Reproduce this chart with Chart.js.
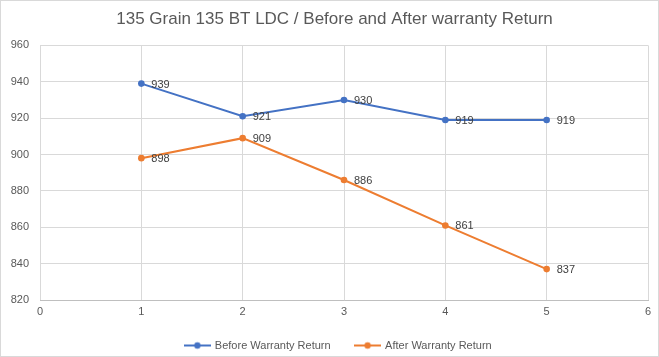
<!DOCTYPE html>
<html><head><meta charset="utf-8">
<script src="https://cdn.jsdelivr.net/npm/chart.js@4"></script>
<style>
html,body{margin:0;padding:0;background:#fff;}
#wrap{width:659px;height:357px;position:relative;box-sizing:border-box;border:1px solid #D9D9D9;}
canvas{display:block;}
</style></head>
<body><div id="wrap"><canvas id="c" width="657" height="355"></canvas></div>
<script>
const titleText = "135 Grain 135 BT LDC / Before and After warranty Return";
const xValues = [1, 2, 3, 4, 5];
const beforeValues = [939, 921, 930, 919, 919];
const afterValues = [898, 909, 886, 861, 837];
const seriesNames = ["Before Warranty Return", "After Warranty Return"];
const yTicks = [820, 840, 860, 880, 900, 920, 940, 960];
const xTicks = [0, 1, 2, 3, 4, 5, 6];

const BLUE = '#4472C4', ORANGE = '#ED7D31';
const FONT = "'Liberation Sans', Arial, sans-serif";

function legendIcon(color){
  const c = document.createElement('canvas');
  c.width = 27; c.height = 10;
  const g = c.getContext('2d');
  g.strokeStyle = color; g.lineWidth = 2;
  g.beginPath(); g.moveTo(0,5); g.lineTo(27,5); g.stroke();
  g.fillStyle = color; g.beginPath(); g.arc(13.5,5,3.2,0,Math.PI*2); g.fill();
  return c;
}

const dataLabels = {
  id: 'dataLabels',
  afterDatasetsDraw(chart){
    const ctx = chart.ctx;
    ctx.save();
    ctx.font = "11px " + FONT;
    ctx.fillStyle = '#404040';
    ctx.textAlign = 'left';
    ctx.textBaseline = 'middle';
    chart.data.datasets.forEach((ds, i) => {
      chart.getDatasetMeta(i).data.forEach((pt, j) => {
        ctx.fillText(String(ds.data[j].y), pt.x + 10, pt.y + 1);
      });
    });
    ctx.restore();
  }
};

const boxShift = {
  id: 'boxShift',
  afterLayout(chart){
    if (chart.legend) { chart.legend.left += 14; chart.legend.right += 14; }
    if (chart.titleBlock) { chart.titleBlock.left += 10; chart.titleBlock.right += 10; }
  }
};

const toPts = arr => xValues.map((x,i)=>({x:x, y:arr[i]}));

new Chart(document.getElementById('c'), {
  type: 'scatter',
  data: {
    datasets: [
      {label: seriesNames[0], data: toPts(beforeValues), showLine: true, borderColor: BLUE, backgroundColor: BLUE, borderWidth: 2, pointRadius: 3.3, pointBorderWidth: 0, pointHoverRadius: 3.3},
      {label: seriesNames[1], data: toPts(afterValues), showLine: true, borderColor: ORANGE, backgroundColor: ORANGE, borderWidth: 2, pointRadius: 3.3, pointBorderWidth: 0, pointHoverRadius: 3.3}
    ]
  },
  options: {
    responsive: false,
    animation: false,
    events: [],
    layout: {padding: {left: 0, right: 10, top: 0, bottom: -5}},
    plugins: {
      title: {display: true, text: titleText, color: '#595959', font: {family: FONT, size: 17, weight: 'normal'}, padding: {top: 8, bottom: 16}},
      legend: {
        position: 'bottom',
        labels: {
          color: '#595959', font: {family: FONT, size: 11}, usePointStyle: true, pointStyleWidth: 24, boxHeight: 10, padding: 25,
          generateLabels(chart){
            return chart.data.datasets.map((ds,i)=>({
              text: ds.label, fillStyle: ds.borderColor, strokeStyle: ds.borderColor, lineWidth: 0,
              pointStyle: legendIcon(ds.borderColor), datasetIndex: i, hidden: false, fontColor: '#595959'
            }));
          }
        }
      },
      tooltip: {enabled: false}
    },
    scales: {
      x: {
        type: 'linear', min: 0, max: 6,
        afterBuildTicks(s){ s.ticks = xTicks.map(v=>({value:v})); },
        afterFit(s){ s.height = 15; },
        grid: {color: '#D9D9D9', drawTicks: false},
        border: {color: '#BFBFBF'},
        ticks: {color: '#595959', font: {family: FONT, size: 11}, padding: 5, maxRotation: 0}
      },
      y: {
        min: 820, max: 960,
        afterBuildTicks(s){ s.ticks = yTicks.map(v=>({value:v})); },
        afterFit(s){ s.width = 39; },
        grid: {color: '#D9D9D9', drawTicks: false},
        border: {display: false},
        ticks: {color: '#595959', font: {family: FONT, size: 11}, padding: 11}
      }
    }
  },
  plugins: [dataLabels, boxShift]
});
</script></body></html>
